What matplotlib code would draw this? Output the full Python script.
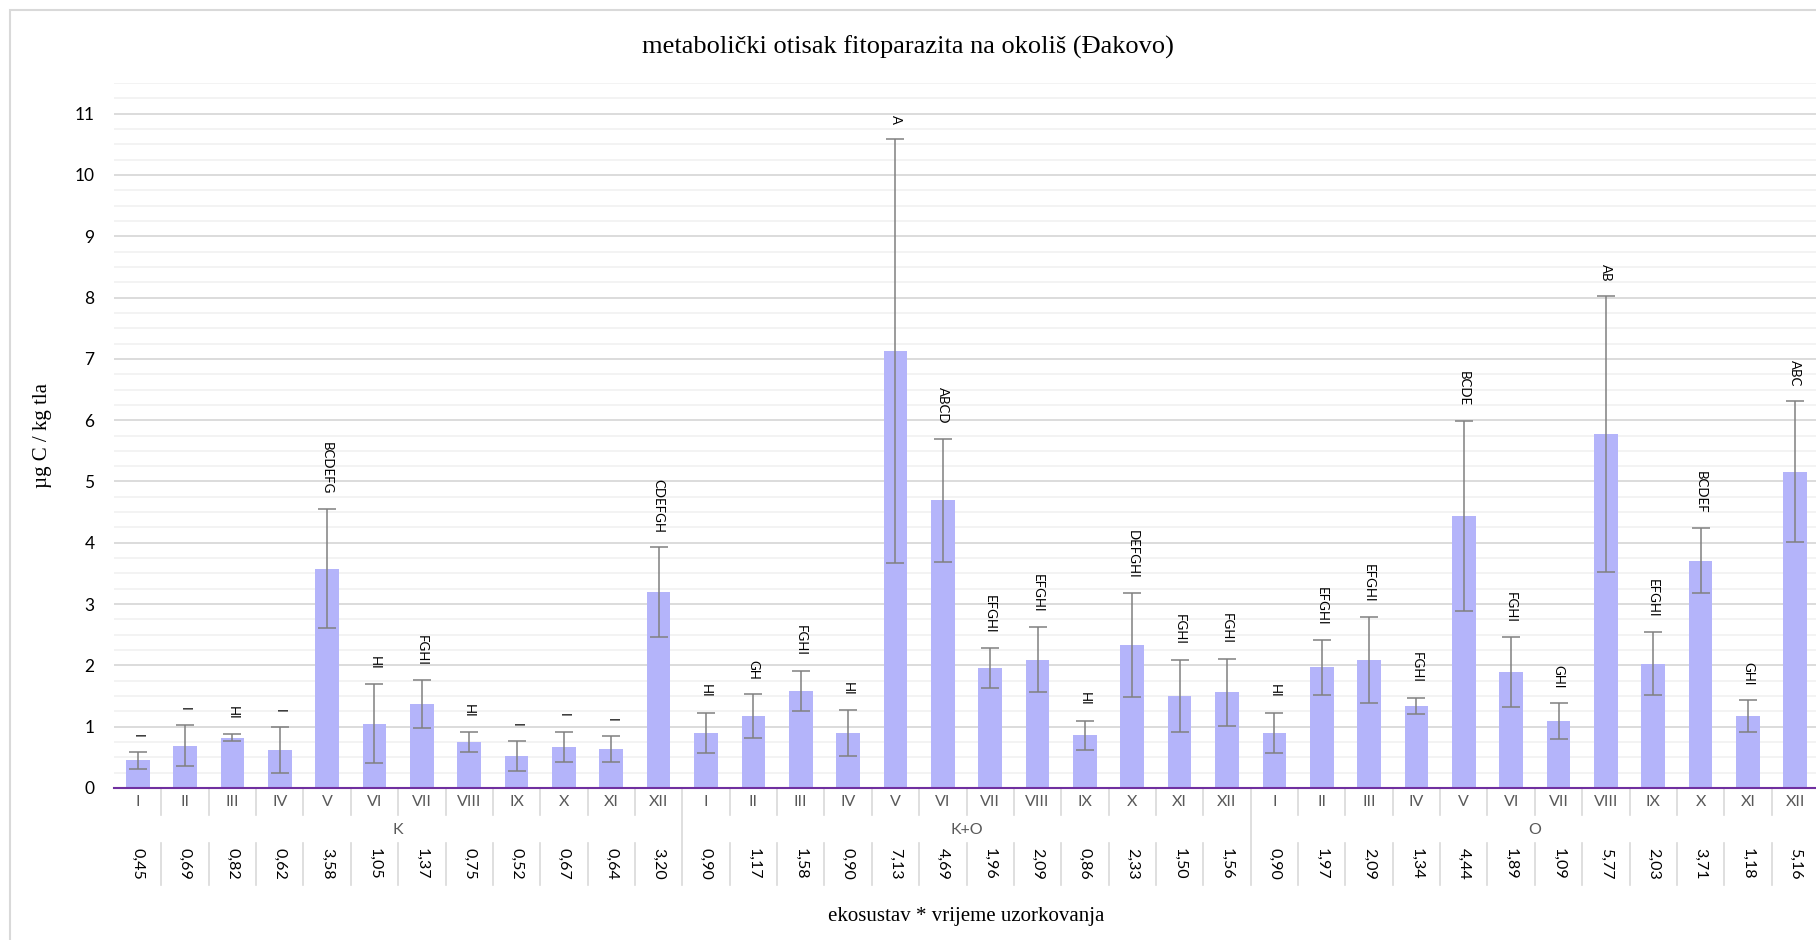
"""Bar chart of the metabolic footprint per ecosystem and sampling month (Đakovo)."""
import numpy as np
import matplotlib
matplotlib.use("Agg")
import matplotlib.pyplot as plt
from matplotlib.patches import Rectangle
from matplotlib.transforms import blended_transform_factory

groups = ["K", "K+O", "O"]
months = ["I", "II", "III", "IV", "V", "VI", "VII", "VIII", "IX", "X", "XI", "XII"]

mean_k = [0.45, 0.69, 0.82, 0.62, 3.58, 1.05, 1.37, 0.75, 0.52, 0.67, 0.64, 3.20]
mean_ko = [0.90, 1.17, 1.58, 0.90, 7.13, 4.69, 1.96, 2.09, 0.86, 2.33, 1.50, 1.56]
mean_o = [0.90, 1.97, 2.09, 1.34, 4.44, 1.89, 1.09, 5.77, 2.03, 3.71, 1.18, 5.16]

err_k = [0.14, 0.33, 0.06, 0.37, 0.97, 0.64, 0.39, 0.16, 0.24, 0.25, 0.21, 0.73]
err_ko = [0.33, 0.36, 0.33, 0.37, 3.46, 1.01, 0.33, 0.53, 0.24, 0.85, 0.59, 0.55]
err_o = [0.33, 0.45, 0.70, 0.13, 1.55, 0.57, 0.29, 2.25, 0.51, 0.53, 0.26, 1.15]

letters_k = ["I", "I", "HI", "I", "BCDEFG", "HI", "FGHI", "HI", "I", "I", "I", "CDEFGH"]
letters_ko = ["HI", "GH", "FGHI", "HI", "A", "ABCD", "EFGHI", "EFGHI", "HI", "DEFGHI", "FGHI", "FGHI"]
letters_o = ["HI", "EFGHI", "EFGHI", "FGHI", "BCDE", "FGHI", "GHI", "AB", "EFGHI", "BCDEF", "GHI", "ABC"]

BAR = "#b4b4fa"
GRID = "#d9d9d9"
SANS = ["Lato", "DejaVu Sans"]
SERIF = ["Liberation Serif", "DejaVu Serif"]
W, H = 1816, 940


def fy(px):
    # pixel row (from top) -> figure fraction
    return 1 - px / H


def main():
    means = np.array(mean_k + mean_ko + mean_o)
    errs = np.array(err_k + err_ko + err_o)
    letters = letters_k + letters_ko + letters_o
    n = len(means)
    x = np.arange(n)

    fig = plt.figure(figsize=(W / 100, H / 100), dpi=100)
    ax = fig.add_axes([114 / W, fy(788), (1819 - 114) / W, (788 - 83) / H])

    ax.set_axisbelow(True)
    ax.bar(x, means, width=0.5, color=BAR, zorder=2)
    ax.errorbar(x, means, yerr=errs, fmt="none", ecolor="#808080", elinewidth=1.1,
                capsize=6.5, capthick=1.1, zorder=3)
    for xi, m, e, lbl in zip(x, means, errs, letters):
        ax.annotate(lbl, (xi, m + e), xytext=(0, 10.5), textcoords="offset points",
                    rotation=270, ha="center", va="bottom", fontsize=9.5, family=SANS)

    ax.set_xlim(-0.5, n - 0.5)
    ax.set_ylim(0, 11.5)
    ax.set_yticks(range(0, 12))
    ax.set_yticks(np.arange(0, 11.51, 0.25), minor=True)
    ax.grid(axis="y", which="major", color=GRID, lw=1.3)
    ax.grid(axis="y", which="minor", color="#f0f0f0", lw=1.1)
    ax.tick_params(axis="y", which="both", length=0, pad=14, labelsize=12.5)
    for t in ax.get_yticklabels():
        t.set_family(SANS)
    ax.set_xticks([])
    for side in ("top", "right", "left"):
        ax.spines[side].set_visible(False)
    ax.spines["bottom"].set_color("#7030a0")
    ax.spines["bottom"].set_linewidth(1.5)

    # category table under the axis
    tr = blended_transform_factory(ax.transData, fig.transFigure)
    for i in range(n):
        ax.text(i, fy(802), months[i % 12], transform=tr, ha="center", va="center",
                fontsize=11.5, color="#595959", family=SANS)
        ax.text(i, fy(864), f"{means[i]:.2f}".replace(".", ","), transform=tr,
                ha="center", va="center", rotation=270, fontsize=11.5, family=SANS)
    for i in range(1, n):
        bound = i - 0.5
        if i % 12 == 0:
            ax.plot([bound, bound], [fy(788), fy(885)], transform=tr, color=GRID,
                    lw=1.2, clip_on=False)
        else:
            ax.plot([bound, bound], [fy(788), fy(815)], transform=tr, color=GRID,
                    lw=1.2, clip_on=False)
            ax.plot([bound, bound], [fy(843), fy(885)], transform=tr, color=GRID,
                    lw=1.2, clip_on=False)
    for g, name in enumerate(groups):
        ax.text(g * 12 + 5.5, fy(830), name, transform=tr, ha="center", va="center",
                fontsize=11.5, color="#595959", family=SANS)

    fig.text(0.5, fy(47), "metabolički otisak fitoparazita na okoliš (Đakovo)",
             ha="center", va="center", fontsize=19, family=SERIF)
    fig.text(42 / W, fy(435), "µg C / kg tla", rotation=90, ha="center", va="center",
             fontsize=15, family=SERIF)
    ax.text(0.5, fy(917), "ekosustav * vrijeme uzorkovanja",
            transform=blended_transform_factory(ax.transAxes, fig.transFigure),
            ha="center", va="center", fontsize=15, family=SERIF)

    fig.patches.append(Rectangle((10 / W, -0.1), 1.2, fy(10) + 0.1, transform=fig.transFigure,
                                 fill=False, edgecolor=GRID, lw=1.5))
    fig.savefig("out.png", dpi=100)
    plt.close(fig)


if __name__ == "__main__":
    main()
